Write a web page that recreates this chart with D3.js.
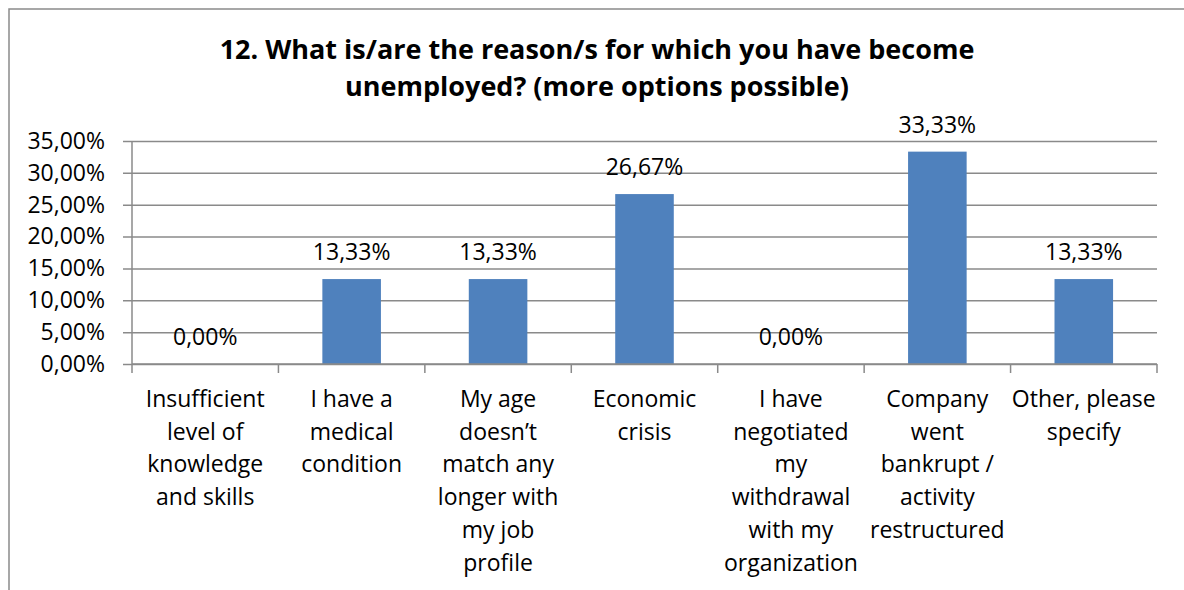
<!DOCTYPE html>
<html>
<head>
<meta charset="utf-8">
<script src="https://cdn.jsdelivr.net/npm/d3@7/dist/d3.min.js"></script>
<style>
  html, body { margin: 0; padding: 0; background: #fff; }
  svg { display: block; }
  text { font-family: "Open Sans", "Noto Sans", sans-serif; fill: #000; }
</style>
</head>
<body>
<svg id="chart" width="1184" height="590"></svg>
<script>
// Survey question and answer categories (each line of a category label as its own entry)
const titleLines = [
  "12. What is/are the reason/s for which you have become",
  "unemployed? (more options possible)"
];
const categories = [
  ["Insufficient", "level of", "knowledge", "and skills"],
  ["I have a", "medical", "condition"],
  ["My age", "doesn\u2019t", "match any", "longer with", "my job", "profile"],
  ["Economic", "crisis"],
  ["I have", "negotiated", "my", "withdrawal", "with my", "organization"],
  ["Company", "went", "bankrupt /", "activity", "restructured"],
  ["Other, please", "specify"]
];
// Share of respondents per reason (percent)
const values = [0.00, 13.33, 13.33, 26.67, 0.00, 33.33, 13.33];
const yTicks = [0, 5, 10, 15, 20, 25, 30, 35];

const fmt = v => v.toFixed(2).replace(".", ",") + "%";

const svg = d3.select("#chart");

// Outer chart frame
svg.append("rect")
  .attr("x", 9).attr("y", 9)
  .attr("width", 1300).attr("height", 700)
  .attr("fill", "none").attr("stroke", "#8a8a8a").attr("stroke-width", 1.5);

const plot = { left: 132, right: 1157, top: 141, bottom: 364 };

const x = d3.scaleBand()
  .domain(d3.range(categories.length))
  .range([plot.left, plot.right])
  .paddingInner(0.6).paddingOuter(0.3);
const step = x.step();

const y = d3.scaleLinear().domain([0, 35]).range([plot.bottom, plot.top]);

// Title
svg.append("g").selectAll("text").data(titleLines).join("text")
  .attr("x", 597).attr("y", (d, i) => 59 + i * 37)
  .attr("text-anchor", "middle")
  .attr("font-size", 27).attr("font-weight", "bold")
  .text(d => d);

// Horizontal gridlines with left ticks
const grid = svg.append("g")
  .attr("transform", `translate(${plot.left},0)`)
  .call(d3.axisLeft(y).tickValues(yTicks)
    .tickSize(-(plot.right - plot.left)).tickSizeOuter(0)
    .tickFormat(d => fmt(d)).tickPadding(18));
grid.select(".domain").remove();
grid.selectAll(".tick line")
  .attr("x1", -9)
  .attr("stroke", "#8a8a8a").attr("stroke-width", 1.5);
grid.selectAll(".tick text")
  .attr("font-size", 23).attr("fill", "#000")
  .attr("font-family", "'Open Sans', sans-serif")
  .attr("x", -27);

// Vertical value axis line
svg.append("line")
  .attr("x1", plot.left).attr("x2", plot.left)
  .attr("y1", plot.top).attr("y2", plot.bottom)
  .attr("stroke", "#8a8a8a").attr("stroke-width", 1.5);

// Bars
svg.append("g").selectAll("rect").data(values).join("rect")
  .attr("x", (d, i) => x(i))
  .attr("width", x.bandwidth())
  .attr("y", d => y(d))
  .attr("height", d => y(0) - y(d))
  .attr("fill", "#4f81bd");

// Category axis line and boundary ticks
svg.append("line")
  .attr("x1", plot.left).attr("x2", plot.right)
  .attr("y1", plot.bottom).attr("y2", plot.bottom)
  .attr("stroke", "#8a8a8a").attr("stroke-width", 1.5);
svg.append("g").selectAll("line").data(d3.range(categories.length + 1)).join("line")
  .attr("x1", i => plot.left + i * step).attr("x2", i => plot.left + i * step)
  .attr("y1", plot.bottom).attr("y2", plot.bottom + 9)
  .attr("stroke", "#8a8a8a").attr("stroke-width", 1.5);

// Value labels
svg.append("g").selectAll("text").data(values).join("text")
  .attr("x", (d, i) => x(i) + x.bandwidth() / 2)
  .attr("y", d => y(d) - 19)
  .attr("text-anchor", "middle")
  .attr("font-size", 23)
  .text(d => fmt(d));

// Category labels
const cat = svg.append("g").selectAll("text").data(categories).join("text")
  .attr("text-anchor", "middle")
  .attr("font-size", 23)
  .attr("x", (d, i) => x(i) + x.bandwidth() / 2)
  .attr("y", 407);
cat.selectAll("tspan").data(d => d).join("tspan")
  .attr("x", function () { return d3.select(this.parentNode).attr("x"); })
  .attr("dy", (d, i) => i === 0 ? 0 : 32.7)
  .text(d => d);
</script>
</body>
</html>
